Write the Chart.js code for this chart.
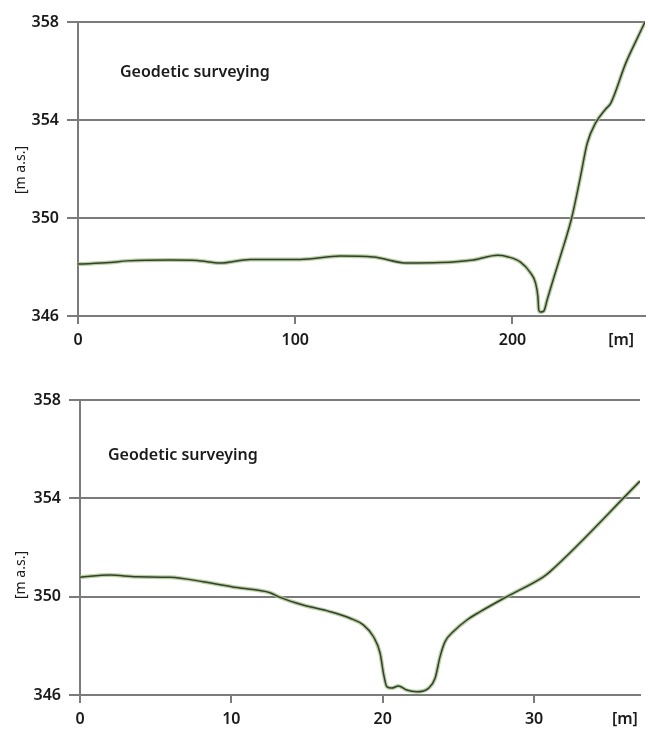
<!DOCTYPE html>
<html>
<head>
<meta charset="utf-8">
<script src="https://cdn.jsdelivr.net/npm/chart.js@4.4.1/dist/chart.umd.min.js"></script>
<style>
  html, body { margin: 0; padding: 0; background: #fff; }
  #wrap { position: relative; width: 648px; height: 733px; }
  canvas { position: absolute; left: 0; }
  #c1 { top: 0; }
  #c2 { top: 366px; }
</style>
</head>
<body>
<div id="wrap">
  <canvas id="c1" width="648" height="366"></canvas>
  <canvas id="c2" width="648" height="367"></canvas>
</div>
<script>
// long profile, distance [m] vs elevation [m a.s.]
const longX = [0, 14.7, 22.6, 42.4, 54.8, 65.4, 79.3, 102.3, 120.7, 135.9, 151.6, 166.8, 182, 193.1, 197.7,
  203.7, 208.3, 210.6, 211.7, 212.1, 212.9, 214.4, 216, 219, 222.9, 225.2, 227.3, 231.3, 234.4, 238.2,
  242.9, 245.2, 252.1, 256.7, 261];
const longY = [348.12, 348.18, 348.25, 348.29, 348.27, 348.16, 348.31, 348.31, 348.45, 348.41, 348.16, 348.18, 348.29, 348.48, 348.42,
  348.2, 347.76, 347.35, 346.78, 346.24, 346.16, 346.2, 346.67, 347.56, 348.68, 349.35, 350.02, 351.69, 353.05, 353.87,
  354.45, 354.68, 356.31, 357.2, 358];

// cross section, zoomed on the channel
const crossX = [0, 1.98, 3.75, 5.95, 8.13, 10.36, 12.56, 13.22, 14.74, 16.52, 17.85, 18.72, 19.39, 19.83, 20.05,
  20.27, 20.6, 21.04, 21.59, 22.25, 23.02, 23.46, 23.79, 24.12, 24.67, 25.56, 26.44, 28.2, 30.62, 31.06, 37];
const crossY = [350.79, 350.88, 350.81, 350.79, 350.61, 350.37, 350.16, 349.97, 349.66, 349.39, 349.12, 348.85, 348.37, 347.7, 346.88,
  346.34, 346.28, 346.37, 346.2, 346.13, 346.27, 346.68, 347.56, 348.17, 348.58, 349.05, 349.39, 350.0, 350.81, 351.02, 354.7];

const yTicks = [346, 350, 354, 358];
const longTicks = [0, 100, 200];
const crossTicks = [0, 10, 20, 30];
const caption = 'Geodetic surveying';
const yUnit = '[m a.s.]';
const xUnit = '[m]';

const GRID = '#7b7b7b';
const INK = '#1a1a1a';
const FONT = '"Noto Sans", "Open Sans", sans-serif';

const notes = {
  id: 'notes',
  afterDraw(chart, args, o) {
    const ctx = chart.ctx;
    ctx.save();
    ctx.fillStyle = INK;
    ctx.textBaseline = 'middle';
    ctx.font = '600 16px ' + FONT;
    ctx.fillText(caption, o.capX, o.capY);
    ctx.translate(o.unitX, o.unitY);
    ctx.rotate(-Math.PI / 2);
    ctx.textAlign = 'center';
    ctx.font = '14px ' + FONT;
    ctx.fillText(yUnit, 0, 0);
    ctx.restore();
  }
};

function profile(id, xs, ys, p) {
  const pts = xs.map((x, i) => ({ x, y: ys[i] }));
  const ticks = p.ticks.concat([p.unitAt]);
  new Chart(document.getElementById(id), {
    type: 'line',
    data: {
      datasets: [
        { data: pts, borderColor: '#33402c', borderWidth: 1.5, pointRadius: 0, cubicInterpolationMode: 'monotone', fill: false },
        { data: pts, borderColor: 'rgba(168,195,140,0.8)', borderWidth: 4, pointRadius: 0, cubicInterpolationMode: 'monotone', fill: false }
      ]
    },
    options: {
      responsive: false,
      animation: false,
      layout: { padding: { top: p.top, right: p.right, left: 0, bottom: 0 } },
      plugins: {
        legend: { display: false },
        tooltip: { enabled: false },
        notes: p.notes
      },
      scales: {
        x: {
          type: 'linear',
          min: 0,
          max: p.xMax,
          afterBuildTicks: s => { s.ticks = ticks.map(v => ({ value: v })); },
          afterFit: s => { s.height = p.axisH; },
          grid: {
            drawOnChartArea: false,
            tickLength: 8,
            lineWidth: 2,
            color: c => (c.tick && c.tick.value === p.unitAt) ? 'rgba(0,0,0,0)' : GRID
          },
          border: { display: true, color: GRID, width: 2 },
          ticks: {
            color: INK,
            padding: 7,
            maxRotation: 0,
            font: { family: FONT, size: 16, weight: '600' },
            callback: v => v === p.unitAt ? xUnit : v
          }
        },
        y: {
          min: 346,
          max: 358,
          afterBuildTicks: s => { s.ticks = yTicks.map(v => ({ value: v })); },
          afterFit: s => { s.width = p.axisW; },
          grid: { color: GRID, lineWidth: 2, tickLength: 11 },
          border: { display: true, color: GRID, width: 2 },
          ticks: { color: INK, padding: 8, font: { family: FONT, size: 16, weight: '600' } }
        }
      }
    },
    plugins: [notes]
  });
}

profile('c1', longX, longY, {
  xMax: 261, ticks: longTicks, unitAt: 250,
  top: 22, right: 3, axisW: 78, axisH: 50,
  notes: { capX: 120, capY: 72, unitX: 21, unitY: 170 }
});

profile('c2', crossX, crossY, {
  xMax: 37, ticks: crossTicks, unitAt: 36,
  top: 34, right: 8, axisW: 80, axisH: 38,
  notes: { capX: 108, capY: 89, unitX: 21, unitY: 209 }
});
</script>
</body>
</html>
